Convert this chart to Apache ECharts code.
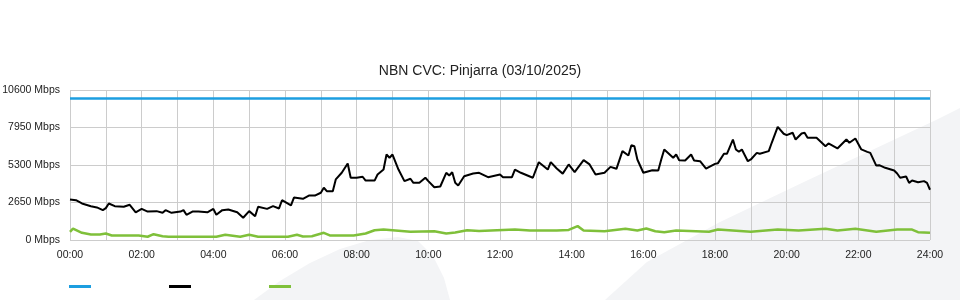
<!DOCTYPE html>
<html>
<head>
<meta charset="utf-8">
<script src="https://cdn.jsdelivr.net/npm/echarts@6/dist/echarts.min.js"></script>
<style>
html,body{margin:0;padding:0;background:#fff;}
#c{width:960px;height:300px;}
</style>
</head>
<body>
<div id="c"></div>
<script>
// ---- data (minutes since midnight, Mbps) ----
const titleText = 'NBN CVC: Pinjarra (03/10/2025)';
const yTicks = [0, 2650, 5300, 7950, 10600];
const xTickLabels = ['00:00','02:00','04:00','06:00','08:00','10:00','12:00','14:00','16:00','18:00','20:00','22:00','24:00'];

const capacityTimes = [0, 1440];
const capacityValues = [10000, 10000];

const downTimes = [0,10,20,35,45,55,60,65,75,90,100,110,120,130,145,155,160,170,185,190,195,205,215,230,240,245,255,265,280,290,300,310,315,330,340,350,355,370,375,390,400,410,420,425,430,440,445,455,465,470,480,490,495,510,515,525,530,535,540,550,560,570,575,585,595,600,610,620,630,635,640,645,650,660,675,685,700,720,725,740,745,755,775,785,800,805,815,825,835,845,860,870,880,895,905,915,925,935,940,945,950,960,975,985,990,995,1010,1015,1020,1030,1040,1045,1055,1065,1080,1085,1095,1100,1110,1115,1120,1125,1135,1140,1150,1155,1170,1175,1185,1195,1200,1210,1215,1225,1230,1235,1250,1265,1270,1285,1300,1305,1315,1325,1335,1340,1350,1355,1365,1380,1385,1390,1400,1405,1410,1420,1430,1435,1440];
const downValues = [2860,2810,2580,2390,2300,2110,2250,2580,2390,2350,2490,1960,2200,2010,2040,1920,2110,1920,2010,2110,1780,2010,2010,1960,2200,1780,2110,2160,1960,1570,2040,1680,2350,2200,2390,2230,2810,2440,3000,2910,3140,3140,3340,3690,3450,3450,4280,4750,5410,4400,4400,4470,4200,4200,4630,4980,6040,5810,6040,4980,4160,4330,4040,4040,4400,4160,3730,3780,4750,4560,4790,4040,3850,4510,4700,4750,4440,4630,4440,4440,4980,4750,4400,5500,4980,5500,5050,4690,5340,4790,5640,5340,4630,4750,5170,5030,6280,5970,6700,6630,5690,4750,4930,4910,5690,6400,5810,6040,5640,5620,6040,5620,5570,5050,5380,5430,6090,6090,7100,6400,6230,6400,5570,5690,6160,6090,6280,6870,8000,7510,7410,7580,7100,7530,7580,7220,7220,6630,6820,6470,7100,6870,7170,6400,6230,6160,5260,5290,5100,4910,4700,4400,4490,4040,4200,4080,4160,4040,3550];

const upTimes = [0,5,20,35,50,60,70,115,130,140,155,165,245,260,285,300,315,365,380,390,405,425,435,475,495,510,525,545,570,610,630,645,665,685,745,770,815,835,850,860,895,930,950,965,980,995,1015,1070,1085,1140,1185,1220,1265,1285,1315,1350,1385,1410,1420,1440];
const upValues = [580,810,510,390,390,460,320,320,230,410,270,230,230,370,230,370,230,230,370,250,270,510,320,320,460,690,740,670,580,620,460,530,690,640,740,670,670,710,980,670,620,790,670,810,620,550,670,580,740,580,740,670,790,670,790,580,740,740,550,510];

// ---- build ----
const zip = (t, v) => t.map((x, i) => [x, v[i]]);
const FONT = '"Liberation Sans", Arial, sans-serif';

const chart = echarts.init(document.getElementById('c'), null, {renderer: 'canvas'});
chart.setOption({
  animation: false,
  backgroundColor: '#ffffff',
  textStyle: {fontFamily: FONT},
  title: {
    text: titleText, left: 'center', top: 59,
    textStyle: {fontSize: 14, fontWeight: 'normal', color: '#222', fontFamily: FONT}
  },
  graphic: [
    {type: 'polygon', z: -10, silent: true,
     shape: {points: [[254,300],[280,281],[310,263],[340,249],[370,240],[398,237],[418,241],[433,256],[444,278],[450,300]]},
     style: {fill: '#f3f4f6'}},
    {type: 'polygon', z: -10, silent: true,
     shape: {points: [[605,300],[647,262],[720,222],[806,181],[936,120],[960,108],[960,300]]},
     style: {fill: '#f3f4f6'}}
  ],
  legend: {
    left: 64, top: 280, icon: 'rect', itemWidth: 22, itemHeight: 3, itemGap: 78,
    formatter: () => '', selectedMode: false,
    data: ['Capacity', 'Download', 'Upload']
  },
  grid: {left: 70, right: 30, top: 90, bottom: 60, containLabel: false, outerBoundsMode: 'none'},
  xAxis: {
    type: 'value', min: 0, max: 1440, interval: 60,
    axisLine: {show: false}, axisTick: {show: false},
    axisLabel: {
      color: '#222', fontSize: 10.5, margin: 10, fontFamily: FONT,
      formatter: v => (v % 120 === 0 ? xTickLabels[v / 120] : '')
    },
    splitLine: {show: true, lineStyle: {color: '#cccccc', width: 1}}
  },
  yAxis: {
    type: 'value', min: yTicks[0], max: yTicks[yTicks.length - 1], interval: 2650,
    axisLine: {show: false}, axisTick: {show: false},
    axisLabel: {color: '#222', fontSize: 10.5, margin: 10, fontFamily: FONT,
      padding: [0, 0, 4, 0],
      formatter: v => v + ' Mbps'},
    splitLine: {show: true, lineStyle: {color: '#cccccc', width: 1}}
  },
  series: [
    {name: 'Capacity', type: 'line', data: zip(capacityTimes, capacityValues),
     showSymbol: false, lineStyle: {color: '#1c9ee0', width: 2.5}, itemStyle: {color: '#1c9ee0'}, z: 3},
    {name: 'Download', type: 'line', data: zip(downTimes, downValues),
     showSymbol: false, lineStyle: {color: '#000000', width: 2}, itemStyle: {color: '#000000'}, z: 4},
    {name: 'Upload', type: 'line', data: zip(upTimes, upValues),
     showSymbol: false, lineStyle: {color: '#7fc03a', width: 2.5}, itemStyle: {color: '#7fc03a'}, z: 3}
  ]
});
</script>
</body>
</html>
